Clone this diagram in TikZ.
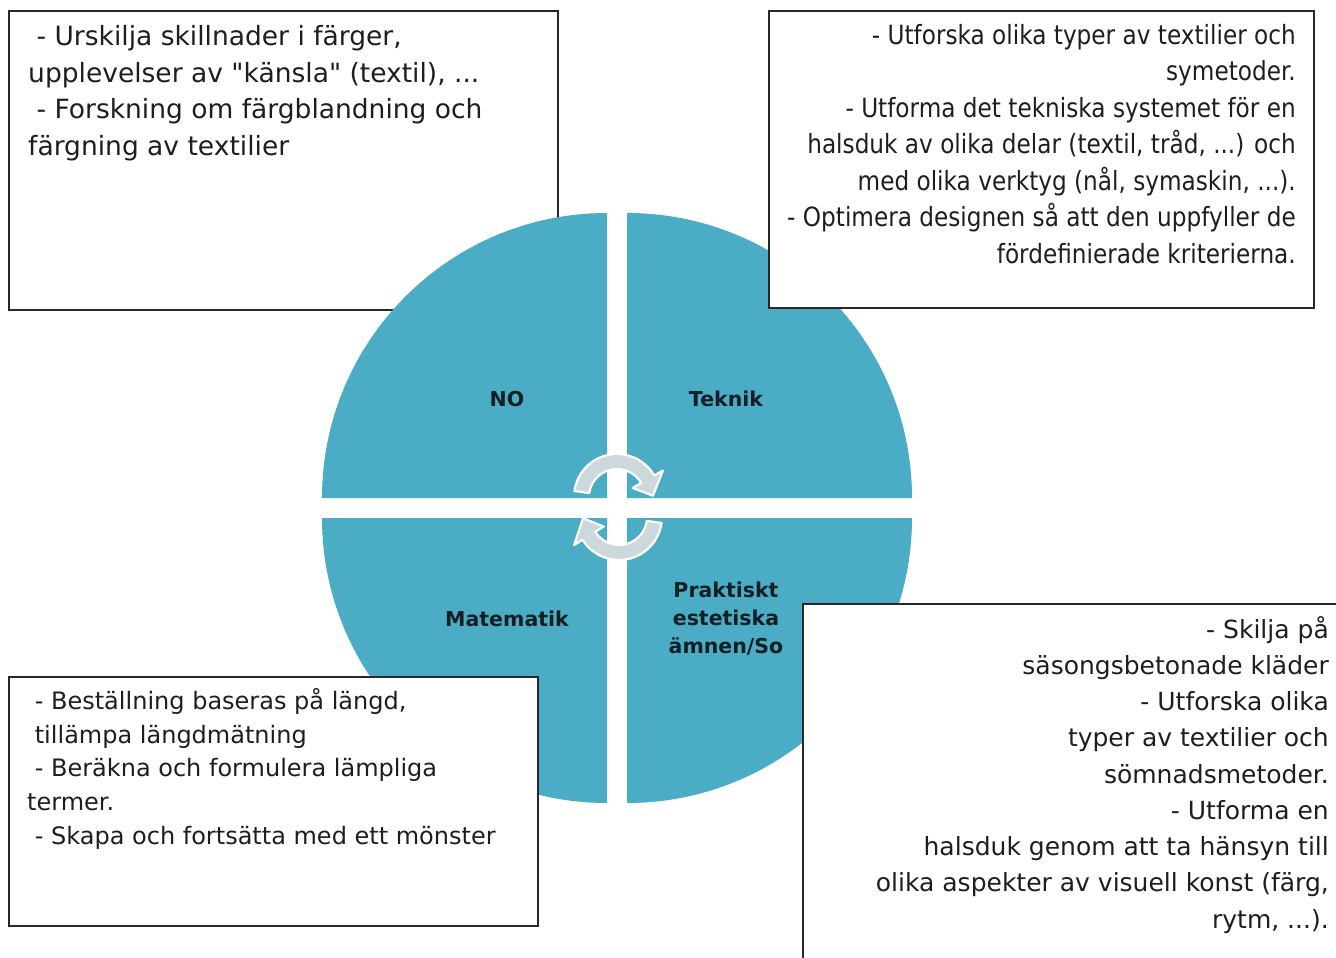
\documentclass[tikz,border=0pt]{standalone}
\usepackage{fontspec}
\setmainfont{DejaVu Sans}[Ligatures=TeXOff]
\newfontfamily\condfont{DejaVu Sans}[FakeStretch=0.875,Ligatures=TeXOff]
\usetikzlibrary{calc}
\definecolor{aqua}{RGB}{75,172,198}
\definecolor{arrowgray}{RGB}{204,216,220}
\definecolor{boxline}{RGB}{40,40,40}
\definecolor{labeltext}{RGB}{20,30,35}
\definecolor{bodytext}{RGB}{30,30,30}
\newcommand{\indsp}{\mbox{\ }}
\begin{document}
\begin{tikzpicture}[x=1pt,y=1pt,
  box/.style={draw=boxline, line width=1.6pt, fill=white, anchor=north west, inner sep=0pt},
  quad/.style={fill=aqua, draw=none},
  cyc/.style={fill=arrowgray, draw=white, line width=2.2pt, line join=round},
  lbl/.style={font=\bfseries\fontsize{20.5}{28}\selectfont, text=labeltext, align=center, inner sep=0pt},
  txt/.style={inner sep=0pt, text=bodytext}]
\useasboundingbox (0,0) rectangle (1336,-958);
\clip (0,0) rectangle (1336,-958);

% top-left box (behind the circle)
\node[box, minimum width=549pt, minimum height=299pt] (tlbox) at (8,-10) {};
\node[txt, anchor=north west, align=left, font=\fontsize{26.5}{36.7}\selectfont] (tltext) at (28,-25)
 {\indsp- Urskilja skillnader i färger,\\ upplevelser av "känsla" (textil), ...\\ \indsp- Forskning om färgblandning och\\ färgning av textilier};

% circle quadrants
\path[quad] (607,-498) -- (322,-498) arc[start angle=180,end angle=90,radius=285pt] -- cycle;
\path[quad] (627,-498) -- (912,-498) arc[start angle=0,end angle=90,radius=285pt] -- cycle;
\path[quad] (607,-518) -- (322,-518) arc[start angle=180,end angle=270,radius=285pt] -- cycle;
\path[quad] (627,-518) -- (912,-518) arc[start angle=0,end angle=-90,radius=285pt] -- cycle;

% circular arrows
\coordinate (ct) at (617,-497);
\path[cyc] ($(ct)+(172:43)$) arc[start angle=172,end angle=30,radius=43pt]
  -- ($(ct)+(30:53)$) -- ($(ct)+(2:36)$) -- ($(ct)+(30:18)$) -- ($(ct)+(30:28)$)
  arc[start angle=30,end angle=172,radius=28pt] -- cycle;
\coordinate (cb) at (619,-517);
\path[cyc] ($(cb)+(-8:43)$) arc[start angle=-8,end angle=-148,radius=43pt]
  -- ($(cb)+(-148:53)$) -- ($(cb)+(-178:36)$) -- ($(cb)+(-148:18)$) -- ($(cb)+(-148:28)$)
  arc[start angle=-148,end angle=-8,radius=28pt] -- cycle;

% labels
\node[lbl] (no) at (507,-399) {NO};
\node[lbl] (teknik) at (726,-399) {Teknik};
\node[lbl] (mat) at (507,-619) {Matematik};
\node[lbl] (prakt) at (726,-619) {Praktiskt\\estetiska\\ämnen/So};

% top-right box
\node[box, minimum width=545pt, minimum height=297pt] (trbox) at (768,-10) {};
\node[txt, anchor=north east, align=right, font=\condfont\fontsize{26.5}{36.5}\selectfont] (trtext) at (1296,-24)
 {- Utforska olika typer av textilier och\\ symetoder.\\ - Utforma det tekniska systemet för en\\ halsduk av olika delar (textil, tråd, ...) och\\ med olika verktyg (nål, symaskin, ...).\\ - Optimera designen så att den uppfyller de\\ fördefinierade kriterierna.};

% bottom-left box
\node[box, minimum width=529pt, minimum height=249pt] (blbox) at (8,-676) {};
\node[txt, anchor=north west, align=left, font=\fontsize{24}{33.75}\selectfont] (bltext) at (27,-688)
 {\indsp- Beställning baseras på längd,\\ \indsp tillämpa längdmätning\\ \indsp- Beräkna och formulera lämpliga\\ termer.\\ \indsp- Skapa och fortsätta med ett mönster};

% bottom-right box (runs past the picture edge)
\node[box, minimum width=560pt, minimum height=380pt] (brbox) at (802,-603) {};
\node[txt, anchor=north east, align=right, font=\fontsize{25}{36.25}\selectfont] (brtext) at (1329,-616)
 {- Skilja på\\ säsongsbetonade kläder\\ - Utforska olika\\ typer av textilier och\\ sömnadsmetoder.\\ - Utforma en\\ halsduk genom att ta hänsyn till\\ olika aspekter av visuell konst (färg,\\ rytm, ...).};
\end{tikzpicture}
\end{document}
